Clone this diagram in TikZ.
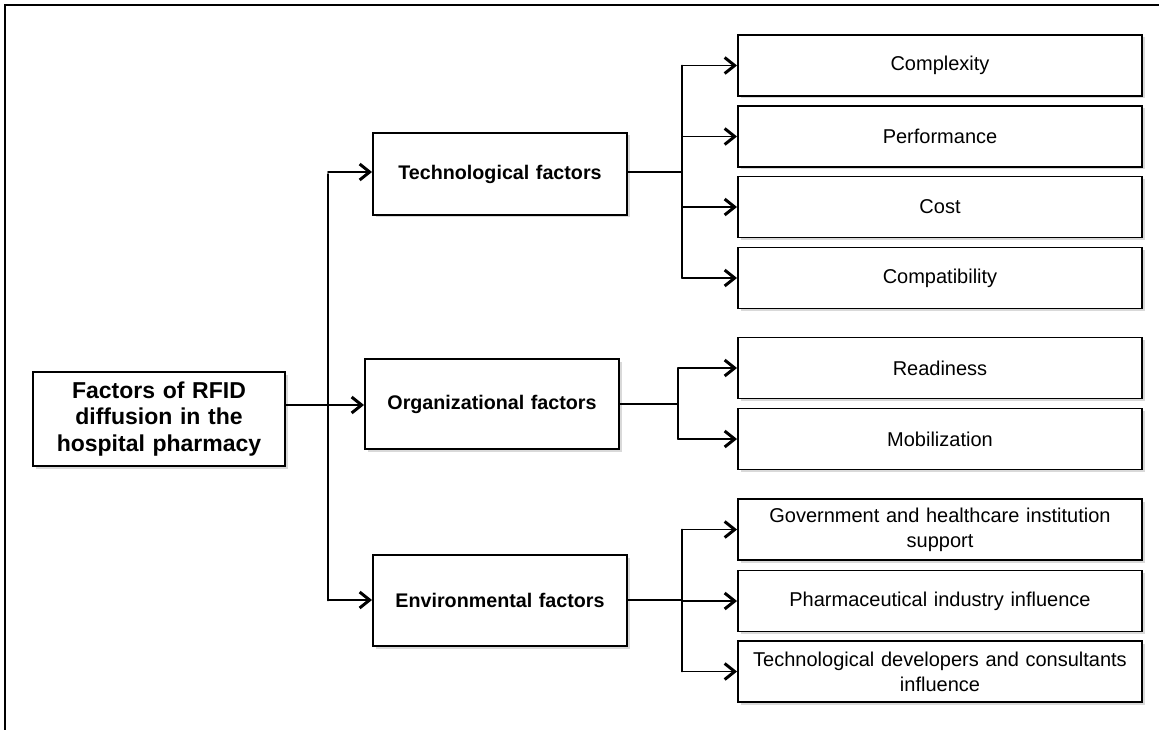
\documentclass[tikz,border=0pt]{standalone}
\usepackage{fontspec}
\setmainfont{Liberation Sans}
\usetikzlibrary{arrows.meta,shadows}
\begin{document}
\begin{tikzpicture}[x=1pt,y=-1pt,
  box/.style={draw=black,line width=1.9pt,fill=white,align=center,inner sep=2pt,
    drop shadow={shadow xshift=2.5pt,shadow yshift=-2.5pt,opacity=0.25,fill=black!60}},
  mainbox/.style={box,minimum width=252pt,minimum height=94pt,text width=248pt,
    font=\fontsize{23}{26.7}\selectfont\bfseries},
  midbox/.style={box,minimum width=254pt,text width=245pt,
    font=\fontsize{19.7}{24}\selectfont\bfseries},
  leaf/.style={box,minimum width=404pt,minimum height=61pt,text width=395pt,
    font=\fontsize{20}{25}\selectfont},
  link/.style={line width=1.9pt,line cap=round},
  arr/.style={link,-{Straight Barb[length=10pt,width=16pt,line width=3pt]}}
]
\useasboundingbox (0,0) rectangle (1159,730);
% outer frame (top and left)
\draw[line width=2pt] (5,730) -- (5,5) -- (1159,5);

% main box
\node[mainbox] (main) at (159,419) {Factors of RFID\\diffusion in the\\hospital pharmacy};

% middle boxes
\node[midbox,minimum height=82pt] (tech) at (500,174) {Technological factors};
\node[midbox,minimum height=90pt] (org) at (492,404) {Organizational factors};
\node[midbox,minimum height=91pt] (env) at (500,600.5) {Environmental factors};

% leaves
\node[leaf] (c1) at (940,65.5) {Complexity};
\node[leaf] (c2) at (940,136.5) {Performance};
\node[leaf] (c3) at (940,207) {Cost};
\node[leaf] (c4) at (940,278) {Compatibility};
\node[leaf] (o1) at (940,368) {Readiness};
\node[leaf] (o2) at (940,439) {Mobilization};
\node[leaf] (e1) at (940,529.5) {Government and healthcare institution\\support};
\node[leaf] (e2) at (940,601) {Pharmaceutical industry influence};
\node[leaf] (e3) at (940,671.5) {Technological developers and consultants\\influence};

% junction coordinates
\coordinate (j0) at (328,405);
\coordinate (jt) at (682,172);
\coordinate (jo) at (678,404);
\coordinate (je) at (682,600);

% main to middle
\draw[link] (main.east |- j0) -- (j0);
\draw[link] (j0 |- tech.west) -- (j0 |- env.west);
\draw[arr] (j0 |- jt) -- (tech.west |- jt);
\draw[arr] (j0) -- (org.west |- j0);
\draw[arr] (j0 |- je) -- (env.west |- je);

% technological branch
\draw[link] (tech.east |- jt) -- (jt);
\draw[link] (jt |- c1.west) -- (jt |- c4.west);
\foreach \n in {c1,c2,c3,c4} \draw[arr] (jt |- \n.west) -- (\n.west);

% organizational branch
\draw[link] (org.east |- jo) -- (jo);
\draw[link] (jo |- o1.west) -- (jo |- o2.west);
\foreach \n in {o1,o2} \draw[arr] (jo |- \n.west) -- (\n.west);

% environmental branch
\draw[link] (env.east |- je) -- (je);
\draw[link] (je |- e1.west) -- (je |- e3.west);
\foreach \n in {e1,e2,e3} \draw[arr] (je |- \n.west) -- (\n.west);
\end{tikzpicture}
\end{document}
